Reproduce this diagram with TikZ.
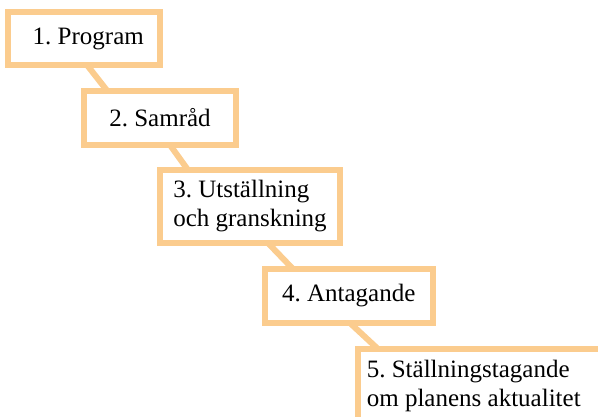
\documentclass[tikz,border=0pt]{standalone}
\usepackage{fontspec}
\setmainfont{Liberation Serif}
\usepackage{tikz}

\definecolor{steporange}{RGB}{251,204,142}
\frenchspacing

\begin{document}
\begin{tikzpicture}[x=1pt,y=-1pt,
    stepbox/.style={draw=steporange, line width=6pt, fill=white, inner sep=0pt, outer sep=0pt,
      align=left, font=\fontsize{25}{29}\selectfont},
    conn/.style={draw=steporange, line width=6pt}]

    \clip (0,0) rectangle (598,416);

    \node[stepbox, minimum width=152.5pt, minimum height=53pt] (p1) at (83.75,38.5) {\hspace*{9pt}1. Program};
    \node[stepbox, minimum width=152pt, minimum height=54.5pt] (p2) at (160,117.75) {2. Samråd};
    \node[stepbox, minimum width=180pt, minimum height=73pt] (p3) at (250,206.5) {3. Utställning\\och granskning};
    \node[stepbox, minimum width=168.5pt, minimum height=54pt] (p4) at (348.75,296) {4. Antagande};
    \node[stepbox, minimum width=248.5pt, minimum height=73pt] (p5) at (481.75,385.5) {5. Ställningstagande\\om planens aktualitet\hspace*{16pt}};

    % connectors between the steps
    \draw[conn] ([xshift=79.5pt]p1.south west) -- ([xshift=23pt]p2.north west);
    \draw[conn] ([xshift=86pt]p2.south west) -- ([xshift=28pt]p3.north west);
    \draw[conn] ([xshift=108pt]p3.south west) -- ([xshift=28.5pt]p4.north west);
    \draw[conn] ([xshift=85.5pt]p4.south west) -- ([xshift=20.5pt]p5.north west);
\end{tikzpicture}
\end{document}
